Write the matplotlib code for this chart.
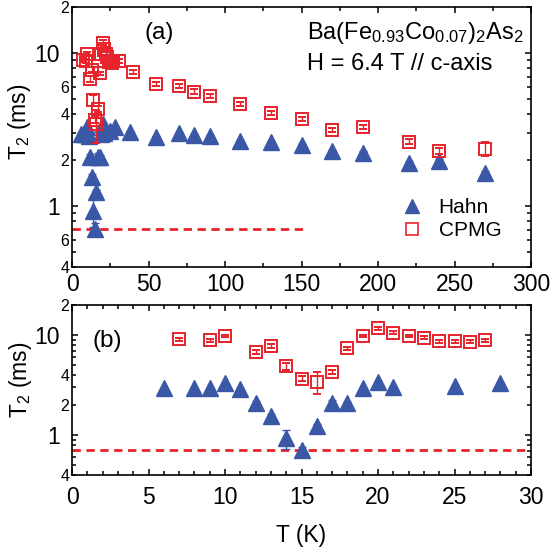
import numpy as np
import matplotlib
matplotlib.use("Agg")
import matplotlib.pyplot as plt
from matplotlib.lines import Line2D
from matplotlib.ticker import MultipleLocator, LogLocator, FuncFormatter, NullFormatter

plt.rcParams['font.family'] = ['Liberation Sans', 'DejaVu Sans']
plt.rcParams['mathtext.fontset'] = 'custom'
plt.rcParams['mathtext.rm'] = 'Liberation Sans'
plt.rcParams['mathtext.it'] = 'Liberation Sans'

# Hahn echo T2 (ms) vs T (K)
T_hahn = [6, 8, 9, 10, 11, 12, 13, 14, 15, 16, 17, 18, 19, 20, 21, 25, 28,
          38, 55, 70, 80, 90, 110, 130, 150, 170, 190, 220, 240, 270]
T2_hahn = [2.94, 2.94, 2.94, 3.3, 2.87, 2.1, 1.55, 0.93, 0.71, 1.23, 2.08, 2.1,
           2.94, 3.42, 3.0, 3.1, 3.3,
           3.05, 2.84, 2.99, 2.9, 2.87, 2.67, 2.63, 2.5, 2.3, 2.24, 1.92, 1.97, 1.65]
err_hahn = [0.05, 0.05, 0.05, 0.06, 0.06, 0.1, 0.08, 0.2, 0.06, 0.05, 0.15, 0.05,
            0.05, 0.05, 0.05, 0.05, 0.05,
            0.05, 0.04, 0.04, 0.04, 0.04, 0.04, 0.04, 0.04, 0.04, 0.04, 0.06, 0.06, 0.05]

# CPMG T2 (ms) vs T (K)
T_cpmg = [7, 9, 10, 12, 13, 14, 15, 16, 17, 18, 19, 20, 21, 22, 23, 24, 25, 26, 27,
          31, 40, 55, 70, 80, 90, 110, 130, 150, 170, 190, 220, 240, 270]
T2_cpmg = [9.07, 8.9, 9.8, 6.8, 7.8, 4.9, 3.67, 3.42, 4.3, 7.37, 9.8, 11.7, 10.6,
           9.8, 9.4, 8.7, 8.7, 8.6, 8.9,
           8.9, 7.55, 6.28, 6.1, 5.6, 5.24, 4.65, 4.08, 3.7, 3.14, 3.3, 2.63, 2.3, 2.36]
err_cpmg = [0.3, 0.3, 0.3, 0.3, 0.3, 0.4, 0.2, 0.85, 0.2, 0.2, 0.3, 0.4, 0.3,
            0.3, 0.3, 0.3, 0.3, 0.3, 0.3,
            0.3, 0.25, 0.2, 0.2, 0.2, 0.15, 0.15, 0.12, 0.1, 0.1, 0.1, 0.1, 0.1, 0.25]

T2_limit = 0.71   # dashed reference line (ms)

blue = '#3a58a6'
red = '#e8232b'

fig = plt.figure(figsize=(5.51, 5.57), dpi=100)
ax1 = fig.add_axes([0.1307, 0.5206, 0.833, 0.4668])
ax2 = fig.add_axes([0.1307, 0.1472, 0.833, 0.3052])


def minor_label(labels):
    def f(v, pos):
        for lv in labels:
            if np.isclose(v, lv, rtol=1e-6):
                return str(int(round(v / 10 ** np.floor(np.log10(v) + 1e-9))))
        return ''
    return f


def style(ax, minor_labels, xmaj, xmin):
    ax.set_yscale('log')
    ax.set_ylim(0.4, 20)
    ax.yaxis.set_major_locator(LogLocator(base=10, subs=(1.0,)))
    ax.yaxis.set_minor_locator(LogLocator(base=10, subs=np.arange(2, 10)))
    ax.yaxis.set_major_formatter(FuncFormatter(lambda v, p: '%g' % v))
    ax.yaxis.set_minor_formatter(FuncFormatter(minor_label(minor_labels)))
    ax.xaxis.set_major_locator(MultipleLocator(xmaj))
    ax.xaxis.set_minor_locator(MultipleLocator(xmin))
    ax.xaxis.set_minor_formatter(NullFormatter())
    ax.tick_params(which='both', direction='in', top=True, right=True, width=1.1)
    ax.tick_params(which='major', length=4.5)
    ax.tick_params(which='minor', length=3)
    ax.tick_params(axis='x', which='major', labelsize=16.5)
    ax.tick_params(axis='y', which='major', labelsize=16.5, pad=9)
    ax.tick_params(axis='y', which='minor', labelsize=11.5, pad=2)
    for s in ax.spines.values():
        s.set_linewidth(1.2)


for ax in (ax1, ax2):
    ax.errorbar(T_hahn, T2_hahn, yerr=err_hahn, fmt='^', ms=11.5, color=blue,
                mec=blue, ecolor=blue, elinewidth=1, capsize=3, zorder=3)
    ax.errorbar(T_cpmg, T2_cpmg, yerr=err_cpmg, fmt='s', ms=9, mfc='none',
                mec=red, mew=1.4, ecolor=red, elinewidth=1, capsize=3, zorder=4)

ax1.plot([0, 153], [T2_limit, T2_limit], color=red, lw=2, ls=(0, (3, 2)))
ax2.plot([0, 30], [T2_limit, T2_limit], color=red, lw=2, ls=(0, (3, 2)))

ax1.set_xlim(0, 300)
ax2.set_xlim(0, 30)
style(ax1, [0.4, 0.6, 2, 4, 6, 20], 50, 25)
style(ax2, [0.4, 2, 4, 20], 5, 1)
ax1.tick_params(axis='x', pad=4)
ax2.tick_params(axis='x', pad=8)

ax1.set_ylabel('T$_2$ (ms)', fontsize=16.5)
ax2.set_ylabel('T$_2$ (ms)', fontsize=16.5)
ax1.yaxis.set_label_coords(-0.085, 0.56)
ax2.yaxis.set_label_coords(-0.083, 0.56)
ax2.set_xlabel('T (K)', fontsize=16.5, labelpad=11)

ax1.text(0.19, 0.9, '(a)', transform=ax1.transAxes, fontsize=17.5,
         ha='center', va='center')
ax2.text(0.076, 0.79, '(b)', transform=ax2.transAxes, fontsize=17.5,
         ha='center', va='center')
ax1.text(0.512, 0.9, 'Ba(Fe$_{0.93}$Co$_{0.07}$)$_2$As$_2$', transform=ax1.transAxes,
         fontsize=17, ha='left', va='center')
ax1.text(0.512, 0.78, 'H = 6.4 T // c-axis', transform=ax1.transAxes,
         fontsize=17, ha='left', va='center')

handles = [Line2D([], [], ls='none', marker='^', ms=9.5, color=blue),
           Line2D([], [], ls='none', marker='s', ms=8, mfc='none', mec=red, mew=1.2)]
ax1.legend(handles, ['Hahn', 'CPMG'], loc='upper left', bbox_to_anchor=(0.685, 0.305),
           frameon=False, fontsize=15, handletextpad=0.5, labelspacing=0.2,
           handlelength=1.5, borderpad=0)

fig.savefig('out.png', dpi=100)
